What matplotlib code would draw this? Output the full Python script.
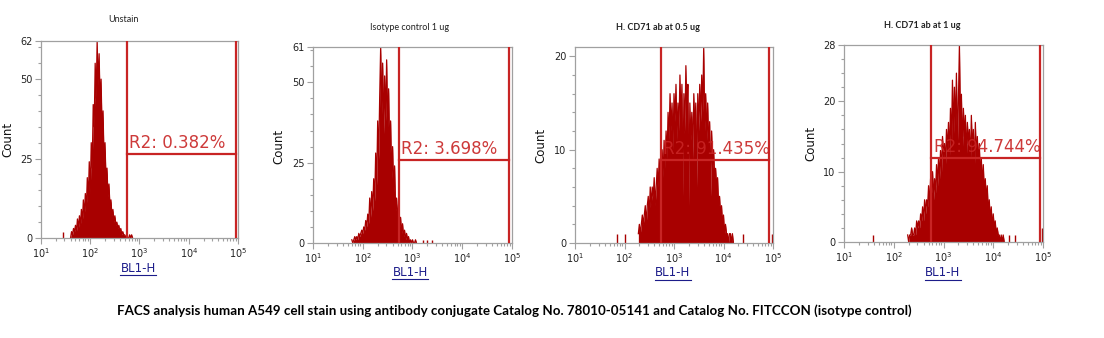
#FACS histograms, four panels, log x axis
import numpy as np
import matplotlib
matplotlib.use("Agg")
import matplotlib.pyplot as plt
from matplotlib.ticker import FixedLocator, LogLocator, MultipleLocator, NullFormatter
from matplotlib.lines import Line2D

W, H = 1104, 338
BIN = 0.02  # decades per channel

titles = ["Unstain", "Isotype control 1 ug", "H. CD71 ab at 0.5 ug", "H. CD71 ab at 1 ug"]
title_bold = [False, False, True, True]
gate_labels = ["R2: 0.382%", "R2: 3.698%", "R2: 91.435%", "R2: 94.744%"]
y_max = [62, 61, 21, 28]
y_ticks = [[0, 25, 50, 62], [0, 25, 50, 61], [0, 10, 20], [0, 10, 20, 28]]
gate_lo = [2.74, 2.72, 2.73, 2.75]   # log10 BL1-H
gate_hi = [4.95, 4.93, 4.92, 4.93]
gate_y = [26.4, 25.8, 8.85, 11.9]

#channel counts, first channel at *_start (log10), BIN decades apart
unstain_start = 1.60
unstain_counts = [0, 2, 1, 3, 2, 4, 2, 6, 3, 7, 4, 9, 5, 12, 7, 14, 9, 19, 12, 24,
                  14, 30, 22, 42, 35, 55, 44, 62, 48, 58, 42, 50, 33, 40, 24, 30, 18, 22, 13, 17,
                  10, 12, 7, 9, 5, 7, 4, 5, 3, 4, 2, 3, 1, 2, 1, 1, 0, 1, 0, 0,
                  1, 0, 1, 0]
unstain_stray_x = [1.45]
unstain_stray_n = [2]

isotype_start = 1.78
isotype_counts = [1, 0, 1, 2, 1, 2, 1, 3, 2, 3, 4, 3, 5, 4, 7, 5, 9, 6, 14, 8,
                  16, 10, 20, 13, 28, 18, 38, 26, 45, 61, 40, 56, 34, 52, 38, 57, 36, 48, 28, 38,
                  20, 30, 16, 24, 10, 14, 7, 12, 5, 8, 3, 6, 2, 4, 1, 3, 1, 2, 0, 1,
                  0, 1, 0, 0, 1, 0]
isotype_stray_x = [3.22, 3.30, 3.40]
isotype_stray_n = [1, 1, 1]

cd71_05_start = 2.28
cd71_05_counts = [1, 2, 1, 2, 3, 2, 3, 4, 2, 4, 5, 3, 6, 4, 6, 5, 7, 4, 6, 8,
                  6, 9, 7, 8, 10, 7, 11, 8, 12, 9, 14, 11, 16, 12, 15, 10, 16, 13, 17, 11,
                  15, 12, 18, 13, 17, 5, 16, 12, 19, 14, 17, 4, 15, 11, 14, 9, 16, 12, 15, 6,
                  16, 12, 17, 13, 18, 14, 21, 12, 16, 11, 15, 10, 13, 5, 12, 8, 10, 7, 8, 6,
                  7, 4, 5, 3, 4, 2, 3, 1, 2, 1, 1, 0, 1, 1, 0, 1, 0]
cd71_05_stray_x = [1.84, 2.00, 4.40, 4.98]
cd71_05_stray_n = [1, 1, 1, 1]

cd71_1_start = 2.28
cd71_1_counts = [1, 0, 1, 1, 2, 1, 1, 2, 1, 3, 2, 3, 2, 4, 3, 5, 3, 6, 4, 6,
                 5, 8, 5, 9, 7, 10, 6, 9, 7, 11, 8, 12, 9, 13, 10, 15, 12, 14, 11, 16,
                 13, 17, 12, 19, 14, 23, 15, 22, 16, 24, 14, 20, 28, 17, 21, 13, 19, 15, 18, 12,
                 17, 14, 16, 11, 18, 13, 16, 10, 17, 12, 15, 11, 14, 9, 12, 8, 11, 7, 9, 6,
                 8, 4, 6, 3, 5, 2, 4, 2, 3, 1, 2, 1, 1, 0, 1, 0, 1, 0]
cd71_1_stray_x = [1.58, 4.32, 4.44, 4.98]
cd71_1_stray_n = [1, 1, 1, 2]

panels = [
    (unstain_start, unstain_counts, unstain_stray_x, unstain_stray_n),
    (isotype_start, isotype_counts, isotype_stray_x, isotype_stray_n),
    (cd71_05_start, cd71_05_counts, cd71_05_stray_x, cd71_05_stray_n),
    (cd71_1_start, cd71_1_counts, cd71_1_stray_x, cd71_1_stray_n),
]

#pixel layout: (left, right, top, bottom) of each plot box
boxes = [(41, 238, 41, 238), (313, 512, 47, 243), (575, 773, 47, 243), (844, 1043, 45, 242)]
title_xy = [(123, 20), (410, 27), (658, 28), (922, 26)]
count_xy = [(8, 139), (279, 146), (541, 145), (811, 143)]
xlab_xy = [(138, 268), (410, 272), (673, 273), (943, 273)]

HIST_C = "#a80000"
GATE_C = "#c82424"
GREY = "#a0a0a0"

fig = plt.figure(figsize=(W / 100, H / 100), dpi=100)
fig.patch.set_facecolor("white")

def fx(px):
    return px / W

def fy(py):
    return 1 - py / H

xlabels = []
for i, (start, counts, sx, sn) in enumerate(panels):
    l, r, t, b = boxes[i]
    ax = fig.add_axes([fx(l), fy(b), (r - l) / W, (b - t) / H])
    counts = np.array(counts, dtype=float)
    x = 10 ** (start + BIN * np.arange(len(counts)))
    ax.fill_between(x, counts, color=HIST_C, lw=0, zorder=2)
    ax.plot(x, counts, color=HIST_C, lw=0.9, zorder=2)
    ax.vlines(10 ** np.array(sx), 0, sn, color=HIST_C, lw=1.0, zorder=2)

    #gate R2
    ax.axvline(10 ** gate_lo[i], color=GATE_C, lw=1.6, zorder=3)
    ax.axvline(10 ** gate_hi[i], color=GATE_C, lw=1.6, zorder=3)
    ax.plot([10 ** gate_lo[i], 10 ** gate_hi[i]], [gate_y[i], gate_y[i]], color=GATE_C, lw=1.6, zorder=3)
    ax.annotate(gate_labels[i], (10 ** gate_lo[i], gate_y[i]), xytext=(2, 1.5),
                textcoords="offset points", color=GATE_C, fontsize=12, va="bottom", ha="left",
                zorder=4, alpha=0.9)

    ax.set_xscale("log")
    ax.set_xlim(10, 1e5)
    ax.set_ylim(0, y_max[i])
    ax.xaxis.set_major_locator(FixedLocator([1e1, 1e2, 1e3, 1e4, 1e5]))
    ax.set_xticklabels([r"$10^{%d}$" % k for k in range(1, 6)])
    ax.xaxis.set_minor_locator(LogLocator(base=10, subs=np.arange(2, 10)))
    ax.xaxis.set_minor_formatter(NullFormatter())
    ax.yaxis.set_major_locator(FixedLocator(y_ticks[i]))
    ax.yaxis.set_minor_locator(MultipleLocator(5 if y_max[i] > 40 else 2))
    ax.tick_params(which="both", direction="out", color=GREY, labelsize=7, labelcolor="#222222", width=0.8)
    ax.tick_params(which="major", length=4, pad=2)
    ax.tick_params(which="minor", length=2)
    for s in ax.spines.values():
        s.set_color(GREY)
        s.set_linewidth(0.9)

    fig.text(fx(title_xy[i][0]), fy(title_xy[i][1]), titles[i], fontsize=6.5, family="Lato",
             fontweight="bold" if title_bold[i] else "normal", ha="center", va="center", color="#222222")
    fig.text(fx(count_xy[i][0]), fy(count_xy[i][1]), "Count", fontsize=8.5, rotation=90,
             ha="center", va="center", color="#111111")
    xlabels.append(fig.text(fx(xlab_xy[i][0]), fy(xlab_xy[i][1]), "BL1-H", fontsize=8.5,
                            ha="center", va="center", color="#1c1c8a"))

fig.text(fx(514), fy(311), "FACS analysis human A549 cell stain using antibody conjugate Catalog No. 78010-05141 "
         "and Catalog No. FITCCON (isotype control)", fontsize=9.6, family="Lato", fontweight="bold",
         ha="center", va="center", color="black")

#underline the axis names
fig.canvas.draw()
rend = fig.canvas.get_renderer()
for t in xlabels:
    bb = t.get_window_extent(rend)
    yline = (bb.y0 - 0.5) / H
    fig.add_artist(Line2D([bb.x0 / W, bb.x1 / W], [yline, yline], color="#1c1c8a", lw=0.8))

fig.savefig("out.png", dpi=100, facecolor="white")
